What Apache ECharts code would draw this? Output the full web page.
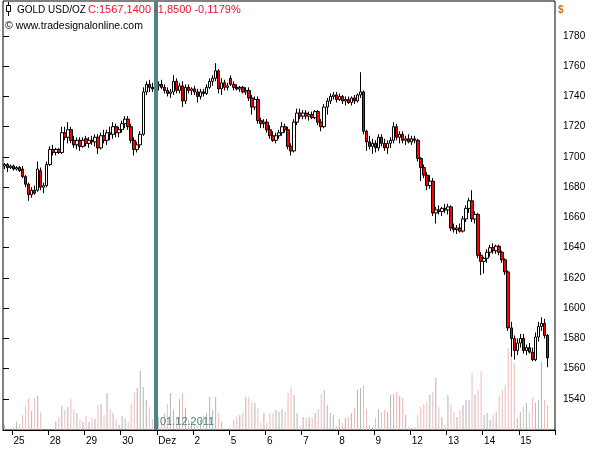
<!DOCTYPE html>
<html><head><meta charset="utf-8">
<script src="https://cdn.jsdelivr.net/npm/echarts@6/dist/echarts.min.js"></script>
<style>html,body{margin:0;padding:0;background:#fff}#c{width:595px;height:450px}</style>
</head><body><div id="c"></div>
<script>
// ---- data ----
const dayLabels = ['25','28','29','30','Dez','2','5','6','7','8','9','12','13','14','15'];
const dayStartIndex = [3,15,27,39,51,63,75,87,99,111,123,135,147,159,171];
const priceTicks = [1540,1560,1580,1600,1620,1640,1660,1680,1700,1720,1740,1760,1780];
const markerIndex = 51;
const markerLabel = '01.12.2011';
const headerName = 'GOLD USD/OZ';
const headerQuote = 'C:1567,1400 -1,8500 -0,1179%';
const headerCopy = '\u00A9 www.tradesignalonline.com';
const currency = '$';
const slotCount = 183;

// [open, close, low, high] per 2h bar
const ohlc = [
 // 24 (partial)
 [1694,1695,1692,1696],[1695,1693,1690,1696],[1693,1694,1692,1695],
 // 25
 [1694,1692,1691,1695],[1692,1693,1691,1694],[1693,1691,1690,1694],[1692,1687,1686,1694],
 [1687,1682,1680,1688],[1682,1675,1671,1683],[1675,1678,1673,1680],[1678,1676,1675,1681],
 [1678,1692,1677,1697],[1691,1680,1678,1693],[1680,1681,1676,1683],[1681,1695,1680,1697],
 // 28
 [1695,1705,1694,1707],[1705,1703,1701,1708],[1703,1705,1701,1706],[1705,1703,1702,1706],
 [1703,1716,1702,1720],[1716,1713,1711,1720],[1713,1718,1709,1723],[1718,1711,1709,1720],
 [1711,1708,1706,1714],[1708,1711,1705,1713],[1711,1707,1704,1713],[1707,1711,1706,1713],
 // 29
 [1712,1709,1707,1714],[1709,1711,1706,1713],[1711,1710,1708,1714],[1710,1713,1707,1715],
 [1713,1706,1702,1715],[1706,1714,1705,1716],[1714,1711,1709,1718],[1711,1716,1708,1718],
 [1716,1715,1711,1720],[1715,1720,1712,1723],[1720,1716,1713,1722],[1716,1718,1713,1720],
 // 30
 [1718,1722,1716,1724],[1722,1725,1719,1727],[1725,1720,1718,1727],[1720,1711,1709,1722],
 [1711,1705,1701,1713],[1705,1708,1703,1710],[1708,1715,1706,1717],[1715,1743,1714,1746],
 [1743,1748,1741,1750],[1748,1746,1743,1751],[1746,1745,1743,1749],[1745,1747,1743,1748],
 // Dez 1
 [1747,1748,1744,1750],[1748,1746,1745,1751],[1746,1744,1742,1748],[1744,1742,1740,1746],
 [1742,1743,1739,1745],[1743,1750,1741,1754],[1750,1744,1742,1752],[1744,1747,1742,1749],
 [1747,1737,1733,1750],[1737,1746,1735,1748],[1746,1744,1742,1748],[1744,1745,1741,1746],
 // 2
 [1745,1743,1741,1747],[1743,1740,1736,1745],[1740,1743,1738,1745],[1743,1742,1740,1745],
 [1742,1746,1741,1748],[1746,1750,1745,1752],[1750,1752,1747,1754],[1752,1757,1750,1762],
 [1757,1745,1742,1758],[1745,1749,1741,1752],[1749,1746,1744,1751],[1746,1747,1744,1749],
 // 5
 [1752,1748,1747,1754],[1748,1746,1744,1750],[1746,1745,1744,1748],[1745,1746,1743,1747],
 [1746,1743,1742,1747],[1743,1744,1741,1746],[1744,1739,1737,1746],[1739,1733,1728,1741],
 [1733,1738,1731,1740],[1738,1724,1722,1740],[1724,1722,1719,1726],[1722,1723,1719,1725],
 // 6
 [1723,1718,1716,1725],[1718,1714,1712,1721],[1714,1711,1710,1717],[1711,1714,1709,1716],
 [1714,1716,1712,1718],[1716,1720,1714,1723],[1720,1718,1716,1722],[1718,1707,1705,1720],
 [1707,1704,1701,1709],[1704,1723,1703,1725],[1723,1729,1721,1732],[1729,1727,1725,1732],
 // 7
 [1727,1729,1725,1731],[1729,1727,1725,1731],[1727,1728,1724,1730],[1728,1726,1725,1730],
 [1726,1730,1725,1731],[1730,1723,1721,1731],[1723,1720,1717,1725],[1720,1733,1719,1735],
 [1733,1737,1728,1739],[1737,1740,1735,1742],[1740,1741,1738,1743],[1741,1738,1736,1743],
 // 8
 [1738,1740,1737,1742],[1740,1737,1735,1741],[1737,1738,1734,1740],[1738,1736,1735,1740],
 [1736,1739,1734,1740],[1739,1737,1735,1741],[1737,1741,1736,1742],[1741,1743,1739,1756],
 [1743,1717,1715,1744],[1717,1710,1704,1718],[1710,1707,1705,1714],[1707,1709,1702,1712],
 // 9
 [1709,1706,1703,1711],[1706,1713,1704,1715],[1713,1709,1707,1715],[1709,1706,1704,1712],
 [1706,1709,1702,1711],[1709,1711,1706,1713],[1711,1720,1709,1723],[1720,1713,1711,1722],
 [1713,1715,1709,1717],[1715,1711,1709,1717],[1711,1712,1708,1714],[1712,1710,1709,1715],
 // 12
 [1710,1712,1708,1714],[1712,1711,1709,1714],[1711,1699,1697,1712],[1699,1693,1684,1700],
 [1693,1688,1686,1695],[1688,1681,1678,1690],[1681,1684,1679,1688],[1684,1663,1661,1686],
 [1663,1665,1656,1667],[1665,1664,1662,1668],[1664,1666,1661,1667],[1666,1665,1663,1669],
 // 13
 [1665,1667,1662,1669],[1667,1653,1651,1668],[1653,1652,1650,1656],[1652,1653,1649,1655],
 [1653,1651,1650,1656],[1651,1659,1650,1661],[1659,1666,1657,1668],[1666,1671,1663,1673],
 [1671,1659,1657,1678],[1659,1662,1656,1664],[1662,1635,1633,1663],[1635,1631,1622,1637],
 // 14
 [1631,1633,1623,1634],[1633,1637,1630,1639],[1637,1640,1634,1642],[1640,1638,1636,1643],
 [1638,1641,1636,1642],[1641,1637,1635,1642],[1637,1632,1630,1638],[1632,1624,1622,1633],
 [1624,1587,1585,1625],[1587,1580,1568,1591],[1580,1572,1566,1582],[1572,1577,1569,1580],
 // 15
 [1577,1580,1574,1583],[1580,1572,1570,1583],[1572,1574,1569,1576],[1574,1571,1570,1577],
 [1571,1566,1565,1574],[1566,1581,1565,1584],[1581,1588,1578,1591],[1588,1590,1585,1594],
 [1590,1582,1580,1593],[1582,1567.14,1561,1583]
];

const volumes = [
 5,0,0,
 3,8,6,15,24,32,19,32,34,18,0,0,
 0,0,9,13,24,20,23,31,21,17,10,8,
 14,8,12,11,25,26,15,37,21,17,11,5,
 14,11,8,27,37,42,59,43,30,23,11,0,
 13,8,17,26,37,20,13,31,37,22,10,9,
 6,4,10,14,17,33,20,33,17,8,0,0,
 2,10,13,15,17,33,33,28,27,22,7,17,
 7,17,17,20,18,21,18,37,43,35,17,4,
 13,12,13,12,17,21,36,40,25,17,15,4,
 11,7,12,13,17,22,40,42,45,21,5,3,
 12,21,18,20,18,35,36,38,34,32,15,3,
 2,3,15,23,26,28,35,38,52,23,13,5,
 35,25,18,13,20,25,30,30,57,35,40,59,
 15,17,10,15,18,35,40,45,82,75,67,12,
 18,23,27,18,32,27,30,68,30,25
];

// ---- build ----
const FONT = "'Liberation Sans', Arial, sans-serif";
const categories = [];
for (let i = 0; i < slotCount; i++) {
  const k = dayStartIndex.indexOf(i);
  categories.push(k >= 0 ? dayLabels[k] : '#' + i);
}
const isDayStart = (i) => dayStartIndex.indexOf(i) >= 0;
const volData = volumes.map((v, i) => ({
  value: v,
  itemStyle: { color: ohlc[i][1] < ohlc[i][0] ? '#f2b9b9' : '#b4b4b4' }
}));

const chart = echarts.init(document.getElementById('c'), null, { renderer: 'canvas' });
chart.setOption({
  animation: false,
  backgroundColor: '#ffffff',
  textStyle: { fontFamily: FONT },
  grid: [
    { left: 3, right: 40, top: 1, height: 429, show: true, borderColor: '#000', borderWidth: 1, backgroundColor: '#fff' },
    { left: 3, right: 40, bottom: 20, height: 130, show: false }
  ],
  xAxis: [
    {
      type: 'category', gridIndex: 0, data: categories, boundaryGap: true,
      axisLine: { show: true, lineStyle: { color: '#000', width: 1 } },
      axisTick: { show: true, interval: (i) => isDayStart(i), length: 5, lineStyle: { color: '#000' } },
      axisLabel: {
        interval: (i) => isDayStart(i), formatter: (v) => (v.charAt(0) === '#' ? '' : v),
        align: 'left', margin: 6, fontSize: 10, color: '#000', fontFamily: FONT
      },
      splitLine: { show: false }
    },
    { type: 'category', gridIndex: 1, data: categories, boundaryGap: true, show: false },
    { type: 'value', gridIndex: 0, min: 0, max: slotCount, show: false }
  ],
  yAxis: [
    {
      type: 'value', gridIndex: 0, position: 'right', min: 1519.5, max: 1803.1, scale: true,
      axisLine: { show: false },
      axisTick: { show: true, length: 6, customValues: priceTicks, lineStyle: { color: '#000' } },
      axisLabel: { customValues: priceTicks, formatter: (v) => String(Math.round(v)), margin: 8, fontSize: 10, color: '#000', fontFamily: FONT },
      splitLine: { show: false }
    },
    { type: 'value', gridIndex: 1, min: 0, max: 130, show: false }
  ],
  series: [
    {
      type: 'bar', xAxisIndex: 1, yAxisIndex: 1, data: volData, barWidth: 1, silent: true, z: 1
    },
    {
      type: 'candlestick', xAxisIndex: 0, yAxisIndex: 0, data: ohlc, barWidth: 3, silent: true, z: 3,
      itemStyle: { color: '#ffffff', color0: '#ff0000', borderColor: '#000', borderColor0: '#000', borderWidth: 1 }
    },
    {
      type: 'line', xAxisIndex: 2, yAxisIndex: 0, data: [], silent: true, z: 5,
      markLine: {
        silent: true, symbol: ['none', 'none'], label: { show: false },
        lineStyle: { color: '#4a8682', width: 4, type: 'solid' },
        data: [{ xAxis: markerIndex - 0.3 }]
      }
    }
  ],
  graphic: [
    { type: 'line', shape: { x1: 8.5, y1: 2, x2: 8.5, y2: 16 }, style: { stroke: '#000', lineWidth: 1 }, z: 10 },
    { type: 'rect', shape: { x: 6.5, y: 5.5, width: 4, height: 6 }, style: { fill: '#fff', stroke: '#000', lineWidth: 1 }, z: 11 },
    { type: 'text', x: 17, y: 10, style: { text: headerName, font: '10px ' + FONT, fill: '#000', verticalAlign: 'middle' }, z: 10 },
    { type: 'text', x: 88, y: 10, style: { text: headerQuote, font: '11px ' + FONT, fill: '#f01030', verticalAlign: 'middle' }, z: 10 },
    { type: 'text', x: 5, y: 26, style: { text: headerCopy, font: '10.5px ' + FONT, fill: '#000', verticalAlign: 'middle' }, z: 10 },
    { type: 'text', x: 558, y: 10, style: { text: currency, font: 'bold 10px ' + FONT, fill: '#c07a1e', verticalAlign: 'middle' }, z: 10 },
    { type: 'text', x: 160, y: 422, style: { text: markerLabel, font: '11px ' + FONT, fill: '#4a8682', verticalAlign: 'middle' }, z: 10 }
  ]
});
</script>
</body></html>
